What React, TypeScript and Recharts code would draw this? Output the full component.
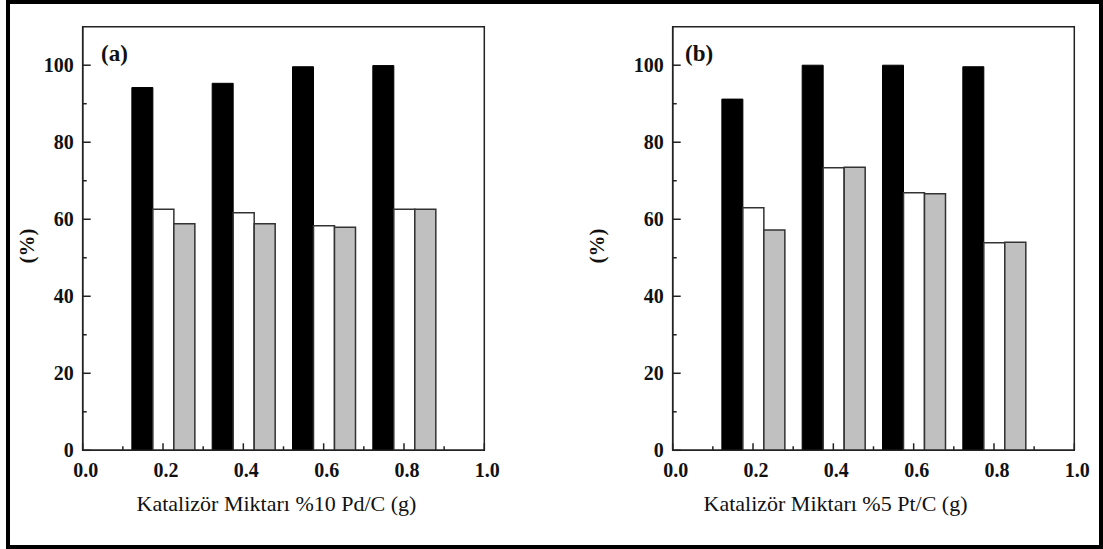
import React from 'react';
import { BarChart, Bar, XAxis, YAxis, ReferenceArea } from 'recharts';

const amounts = [0.2, 0.4, 0.6, 0.8];
const xTicks = [0, 0.1, 0.2, 0.3, 0.4, 0.5, 0.6, 0.7, 0.8, 0.9, 1.0];
const yTicks = [0, 10, 20, 30, 40, 50, 60, 70, 80, 90, 100];

// panel (a) %10 Pd/C
const pdBlack = [94.2, 95.3, 99.6, 99.9];
const pdWhite = [62.6, 61.7, 58.3, 62.6];
const pdGray = [58.8, 58.8, 57.9, 62.6];

// panel (b) %5 Pt/C
const ptBlack = [91.2, 100, 100, 99.6];
const ptWhite = [63.0, 73.4, 66.9, 53.9];
const ptGray = [57.2, 73.5, 66.6, 54.0];

const FONT = '"Liberation Serif", "Times New Roman", serif';
const INK = '#222';

function XTick(props: any) {
  const { x, y, payload } = props;
  const major = Math.round(payload.value * 10) % 2 === 0;
  return (
    <g>
      <line x1={x} y1={y} x2={x} y2={y - (major ? 7 : 4)} stroke={INK} strokeWidth={1.5} />
      {major && (
        <text x={x + 3} y={y + 20} textAnchor="middle" dominantBaseline="central" fontFamily={FONT} fontWeight="bold" fontSize={20} fill="#111">
          {payload.value.toFixed(1)}
        </text>
      )}
    </g>
  );
}

function YTick(props: any) {
  const { x, y, payload } = props;
  const major = payload.value % 20 === 0;
  return (
    <g>
      <line x1={x} y1={y} x2={x + (major ? 8 : 4)} y2={y} stroke={INK} strokeWidth={1.5} />
      {major && (
        <text x={x - 9} y={y} textAnchor="end" dominantBaseline="central" fontFamily={FONT} fontWeight="bold" fontSize={20} fill="#111">
          {payload.value}
        </text>
      )}
    </g>
  );
}

function Panel({ left, padLeft, tag, tagX, title, black, white, gray, titleDx, yLabelX }: any) {
  const data = amounts.map((a, i) => ({ x: a, black: black[i], white: white[i], gray: gray[i] }));
  const width = 500 + padLeft;
  return (
    <div style={{ position: 'absolute', left: left - padLeft, top: 0, width, height: 549 }}>
      <BarChart
        width={width}
        height={549}
        data={data}
        barGap={0}
        margin={{ top: 26.7, right: 15.7, left: 22.7 + padLeft, bottom: 38.7 }}
      >
        <XAxis
          dataKey="x"
          type="number"
          domain={[0, 1]}
          ticks={xTicks}
          interval={0}
          height={60}
          tickSize={0}
          tickMargin={0}
          tickLine={false}
          axisLine={{ stroke: INK, strokeWidth: 1.5 }}
          tick={<XTick />}
          label={(p: any) => {
            const vb = p.viewBox;
            return (
              <text x={vb.x + vb.width / 2 + titleDx} y={vb.y + 53} textAnchor="middle" dominantBaseline="central" fontFamily={FONT} fontSize={22} fill="#111">
                {title}
              </text>
            );
          }}
        />
        <YAxis
          type="number"
          domain={[0, 110]}
          ticks={yTicks}
          interval={0}
          width={60}
          tickSize={0}
          tickMargin={0}
          tickLine={false}
          axisLine={{ stroke: INK, strokeWidth: 1.5 }}
          tick={<YTick />}
          label={(p: any) => {
            const vb = p.viewBox;
            const cx = vb.x + yLabelX;
            const cy = 246;
            return (
              <text x={cx} y={cy} transform={`rotate(-90 ${cx} ${cy})`} textAnchor="middle" dominantBaseline="central" fontFamily={FONT} fontWeight="bold" fontSize={21} fill="#111">
                (%)
              </text>
            );
          }}
        />
        <ReferenceArea x1={0} x2={1} y1={0} y2={110} fill="none" stroke={INK} strokeWidth={1.5} />
        <Bar dataKey="black" fill="#000" stroke="#000" strokeWidth={1} barSize={21} isAnimationActive={false} />
        <Bar dataKey="white" fill="#fff" stroke="#333" strokeWidth={1.5} barSize={21} isAnimationActive={false} />
        <Bar dataKey="gray" fill="#c0c0c0" stroke="#333" strokeWidth={1.5} barSize={21} isAnimationActive={false} />
      </BarChart>
      <div
        style={{
          position: 'absolute',
          left: tagX + padLeft,
          top: 40,
          fontFamily: FONT,
          fontWeight: 'bold',
          fontSize: 23,
          lineHeight: '28px',
          color: '#111',
        }}
      >
        {tag}
      </div>
    </div>
  );
}

export default function App() {
  return (
    <div style={{ position: 'absolute', left: 0, top: 0, width: 1103, height: 549, background: '#fff' }}>
      <div
        style={{
          position: 'absolute',
          left: 6,
          top: 0,
          width: 1097,
          height: 549,
          boxSizing: 'border-box',
          border: '4px solid #000',
        }}
      />
      <Panel left={0} padLeft={0} tag="(a)" tagX={101} title="Katalizör Miktarı %10 Pd/C (g)" black={pdBlack} white={pdWhite} gray={pdGray} titleDx={-7} yLabelX={4} />
      <Panel left={590} padLeft={40} tag="(b)" tagX={95} title="Katalizör Miktarı %5 Pt/C (g)" black={ptBlack} white={ptWhite} gray={ptGray} titleDx={-38} yLabelX={-15.7} />
    </div>
  );
}
